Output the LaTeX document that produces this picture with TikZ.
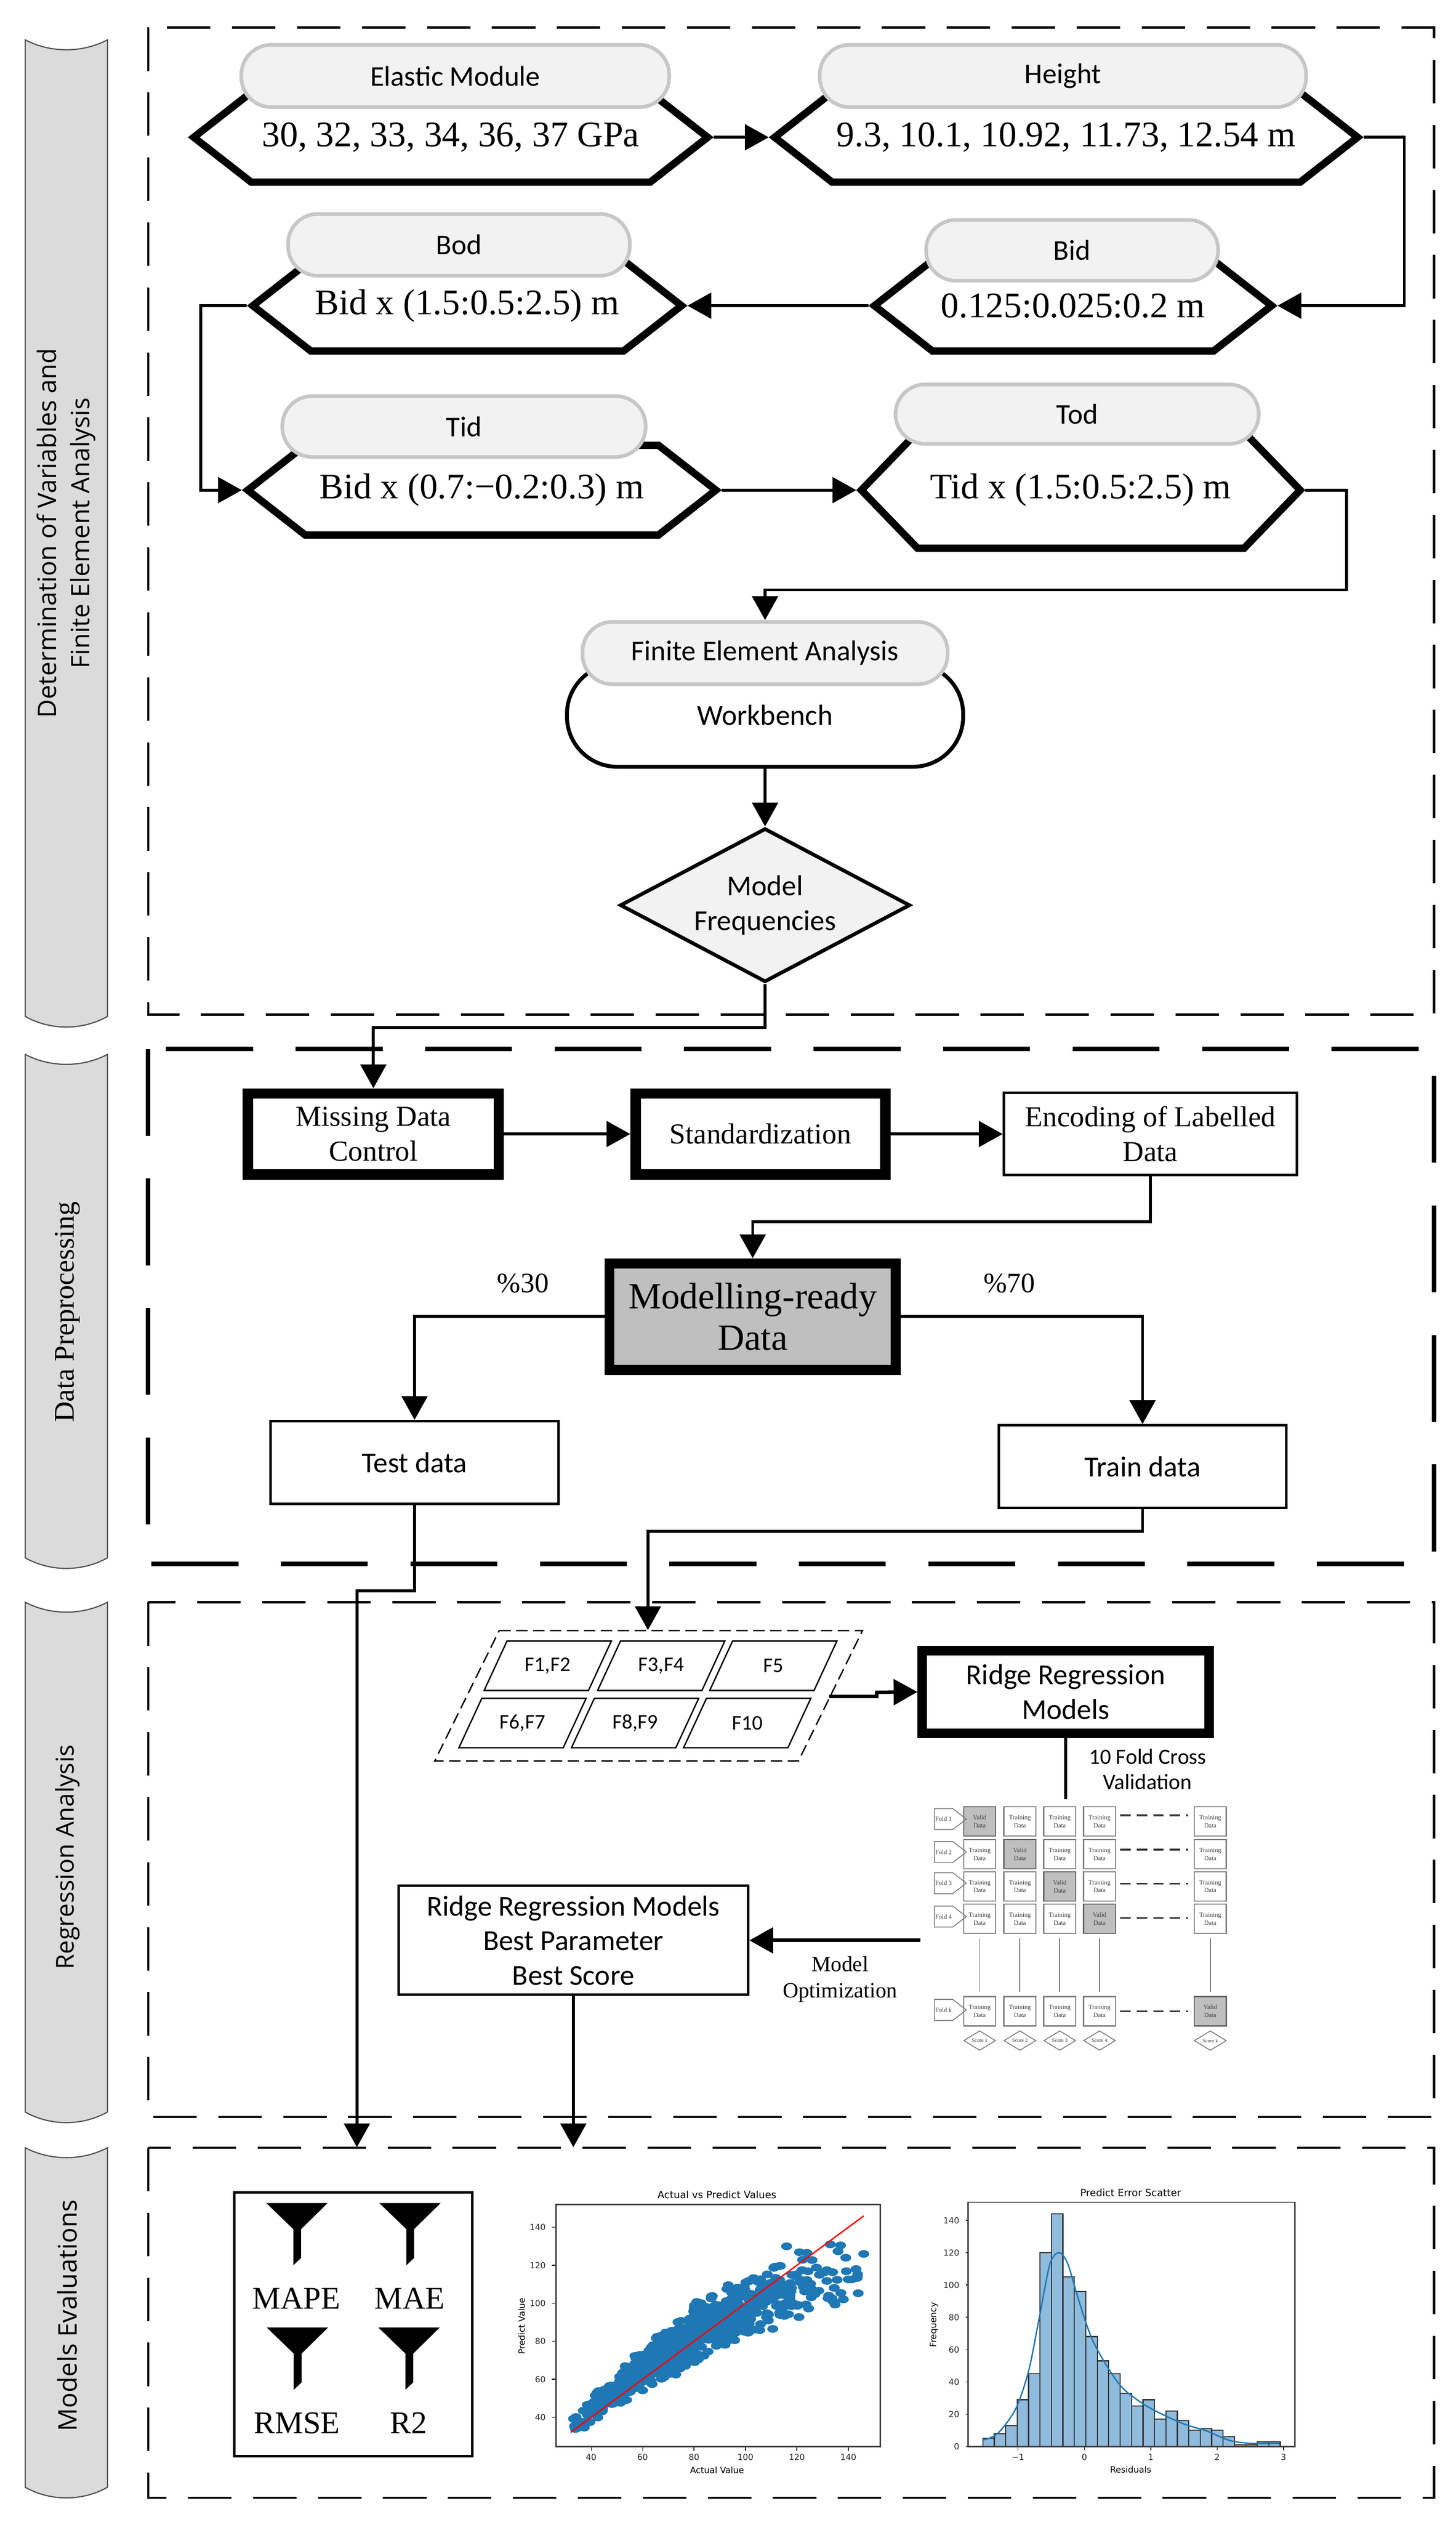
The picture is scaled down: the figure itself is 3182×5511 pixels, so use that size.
\documentclass[tikz,border=0pt]{standalone}
\usepackage{fontspec}
\setmainfont{Liberation Serif}
\newfontfamily\calibrifont{Carlito}
\newfontfamily\lanefont{Open Sans}
\newfontfamily\plotfont{DejaVu Sans}
\usetikzlibrary{arrows.meta,shapes.symbols,shapes.geometric}

\tikzset{
	hexnode/.style n args={3}{shape=signal, signal to=east and west, signal from=nowhere, signal pointer angle=#3, draw=black, line width=1.6mm, inner sep=0pt, minimum width=#1 mm, minimum height=#2 mm, font=\fontsize{22.4}{26}\selectfont},
	pillnode/.style n args={2}{rectangle, rounded corners=6.5mm, draw=black!22, fill=black!5, line width=0.8mm, minimum width=#1 mm, minimum height=#2 mm, font=\calibrifont\fontsize{17.8}{21.5}\selectfont},
	boxnode/.style n args={3}{rectangle, draw=black, line width=#3 mm, inner sep=0pt, minimum width=#1 mm, minimum height=#2 mm, align=center, font=\fontsize{18}{21.5}\selectfont},
	calibritext/.style={font=\calibrifont\fontsize{18}{21.5}\selectfont, align=center},
	serifnote/.style={font=\fontsize{17.5}{21}\selectfont, align=center},
	conn/.style={line width=0.65mm, -{Triangle[length=5.2mm,width=5.6mm]}},
	plainconn/.style={line width=0.65mm},
	laneframe/.style={line width=0.5mm, dash pattern=on 9.5mm off 4.7mm},
	laneback/.style={draw=black!70, fill=black!14, line width=0.25mm},
	trainbox/.style={rectangle, draw=black!50, fill=white, line width=0.25mm, inner sep=0pt, minimum width=7mm, minimum height=6.4mm, align=center, text=black!75, font=\fontsize{4}{5}\selectfont},
	validbox/.style={trainbox, fill=black!25, draw=black!60},
	foldtag/.style={shape=signal, signal to=east, signal from=nowhere, signal pointer angle=75, draw=black!50, line width=0.2mm, inner sep=0pt, minimum width=7mm, minimum height=4.6mm, text=black!75, font=\fontsize{4}{5}\selectfont},
	scoretag/.style={diamond, draw=black!50, line width=0.2mm, inner sep=0pt, shape aspect=1.63, minimum width=7mm, minimum height=4.3mm, text=black!75, font=\fontsize{3.2}{4}\selectfont},
	ticktext/.style={font=\plotfont\fontsize{5.2}{6}\selectfont, text=black!85},
	axistitle/.style={font=\plotfont\fontsize{6.2}{7}\selectfont},
	axisname/.style={font=\plotfont\fontsize{5.4}{6}\selectfont},
}

\begin{document}
\begin{tikzpicture}[x=0.1mm,y=-0.1mm]
\useasboundingbox (0,0) rectangle (3182,5511);

% side lanes
\foreach \ytop/\ybot in {87/2221,2304/3404,3501/4615,4693/5435}{
\draw[laneback] (55,\ytop) .. controls (110,\ytop+29) and (180,\ytop+29) .. (235,\ytop) -- (235,\ybot) .. controls (180,\ybot+31) and (110,\ybot+31) .. (55,\ybot) -- cycle;
}
\node[rotate=90, align=center, font=\lanefont\fontsize{15.8}{20.7}\selectfont] (laneA) at (145,1165) {Determination of Variables and\\Finite Element Analysis};
\node[rotate=90, font=\fontsize{17.7}{21}\selectfont] (laneB) at (148,2867) {Data Preprocessing};
\node[rotate=90, font=\lanefont\fontsize{15.3}{18}\selectfont] (laneC) at (147,4058) {Regression Analysis};
\node[rotate=90, font=\lanefont\fontsize{16}{18}\selectfont] (laneD) at (147,5060) {Models Evaluations};

% dashed frames
\draw[laneframe] (324,60) rectangle (3134,2217);
\draw[line width=1mm, dash pattern=on 19mm off 9.3mm] (324,2292) rectangle (3134,3417);
\draw[laneframe] (324,3501) rectangle (3134,4626);
\draw[laneframe] (324,4693) rectangle (3134,5458);

% variables
\node[hexnode={112.3}{19.6}{76}] (elastic) at (985,300) {30, 32, 33, 34, 36, 37 GPa};
\node[hexnode={127.4}{19.6}{76}] (height) at (2330,300) {9.3, 10.1, 10.92, 11.73, 12.54 m};
\node[hexnode={86.8}{19.8}{76}] (bid) at (2345,668) {0.125:0.025:0.2 m};
\node[hexnode={93.7}{19.8}{76}] (bod) at (1021,668) {Bid x (1.5:0.5:2.5) m};
\node[hexnode={102.3}{19.6}{76}] (tid) at (1053,1071) {Bid x (0.7:−0.2:0.3) m};
\node[hexnode={95.9}{25.4}{92}] (tod) at (2362,1071) {Tid x (1.5:0.5:2.5) m};

\node[pillnode={93.5}{13.6}] (elastic_t) at (995,166) {Elastic Module};
\node[pillnode={106.3}{13.6}] (height_t) at (2323,166) {Height};
\node[pillnode={63.8}{13.3}] (bid_t) at (2343,547) {Bid};
\node[pillnode={74.7}{13.5}] (bod_t) at (1003,535) {Bod};
\node[pillnode={79.4}{13.3}] (tid_t) at (1014,932) {Tid};
\node[pillnode={79.4}{13}] (tod_t) at (2354,905) {Tod};

% finite element step
\node[rectangle, rounded corners=11mm, draw=black, line width=0.85mm, minimum width=86.6mm, minimum height=22.5mm, calibritext] (bench) at (1672,1563) {Workbench};
\node[pillnode={79.8}{13.6}] (fea) at (1672,1427) {Finite Element Analysis};
\node[diamond, shape aspect=1.888, draw=black, fill=black!5, line width=0.8mm, inner sep=0pt, minimum width=63.4mm, minimum height=33.6mm, calibritext] (freq) at (1672,1978) {Model\\Frequencies};

\coordinate (routeA) at (3069,300);
\coordinate (routeB) at (439,668);
\coordinate (routeC) at (2943,1289);
\coordinate (routeD) at (1672,2245);

\draw[conn] (elastic.east) -- (height.west);
\draw[conn] (height.east) -- (routeA) |- (bid.east);
\draw[conn] (bid.west) -- (bod.east);
\draw[conn] (bod.west) -- (routeB) |- (tid.west);
\draw[conn] (tid.east) -- (tod.west);
\draw[conn] (tod.east) -| (routeC) -| (fea.north);
\draw[conn] (bench.south) -- (freq.north);

% preprocessing
\node[boxnode={54.8}{17.7}{2.3}] (missing) at (816,2478) {Missing Data\\Control};
\node[boxnode={54.6}{17.7}{2.3}] (standard) at (1662,2478) {Standardization};
\node[boxnode={64}{18}{0.55}] (encoding) at (2514,2478) {Encoding of Labelled\\Data};
\node[boxnode={62.6}{23.3}{2.2}, fill=black!25, font=\fontsize{23}{25.5}\selectfont] (ready) at (1645,2877) {Modelling-ready\\Data};
\node[boxnode={62.9}{18.1}{0.55}, calibritext] (testdata) at (906,3196) {Test data};
\node[boxnode={62.9}{18.1}{0.55}, calibritext] (traindata) at (2497,3205) {Train data};
\node[serifnote] (pct_test) at (1143,2804) {\%30};
\node[serifnote] (pct_train) at (2206,2804) {\%70};

\coordinate (routeE) at (2514,2669);
\draw[conn] (freq.south) -- (routeD) -| (missing.north);
\draw[conn] (missing.east) -- (standard.west);
\draw[conn] (standard.east) -- (encoding.west);
\draw[conn] (encoding.south) -- (routeE) -| (ready.north);
\draw[conn] (ready.west) -| (testdata.north);
\draw[conn] (ready.east) -| (traindata.north);

% feature groups
\draw[line width=0.3mm, dash pattern=on 2.5mm off 1.2mm] (1091,3563) -- (1885,3563) -- (1745,3848) -- (950,3848) -- cycle;
\foreach \cname/\cx/\cy/\ctext in {fa/1197/3640/{F1,F2},fb/1445/3640/{F3,F4},fc/1690/3640/F5,fd/1142/3765/{F6,F7},fe/1388/3765/{F8,F9},ff/1633/3765/F10}{
\draw[line width=0.3mm] (\cx-89,\cy-54) -- (\cx+139,\cy-54) -- (\cx+89,\cy+54) -- (\cx-139,\cy+54) -- cycle;
\node[font=\calibrifont\fontsize{13}{15}\selectfont] (\cname) at (\cx,\cy) {\ctext};
}
\node[boxnode={62.7}{18.1}{2.1}, calibritext] (ridge) at (2329,3697) {Ridge Regression\\Models};
\node[boxnode={76.4}{23.8}{0.55}, calibritext] (best) at (1253,4240) {Ridge Regression Models\\Best Parameter\\Best Score};
\node[font=\calibrifont\fontsize{13.6}{15.9}\selectfont, align=center] (crossval) at (2508,3866) {10 Fold Cross\\Validation};
\node[font=\fontsize{13.5}{16.4}\selectfont, align=center] (optim) at (1836,4325) {Model\\Optimization};

\coordinate (routeF) at (906,3476);
\coordinate (routeG) at (780,3476);
\coordinate (routeH) at (2497,3346);
\coordinate (groupsTop) at (1416,3562);
\coordinate (groupsOut) at (1812,3707);
\coordinate (groupsJog) at (1916,3698);
\coordinate (gridTop) at (2329,3932);
\coordinate (gridOut) at (2012,4240);
\coordinate (metricsTop) at (780,4692);
\coordinate (plotsTop) at (1253,4692);

\draw[conn] (traindata.south) -- (routeH) -| (groupsTop);
\draw[conn, line width=0.75mm] (groupsOut) -| (groupsJog) -- (ridge.west);
\draw[plainconn, line width=0.75mm] (ridge.south) -- (gridTop);
\draw[conn, line width=0.75mm] (gridOut) -- (best.east);
\draw[conn, line width=0.7mm] (best.south) -- (plotsTop);
\draw[conn, line width=0.7mm] (testdata.south) -- (routeF) -- (routeG) -- (metricsTop);

% k fold grid
\foreach \rowy [count=\r] in {3980,4052,4122,4193,4395}{
\foreach \colx [count=\c] in {2141,2229,2316,2403,2645}{
\ifnum\r=\c \def\kstyle{validbox}\def\kword{Valid}\else \def\kstyle{trainbox}\def\kword{Training}\fi
\node[\kstyle] (k\r\c) at (\colx,\rowy) {\kword\\Data};
}
}
\foreach \foldy/\foldname in {3975/1,4047/2,4115/3,4188/4,4392/k}{
\node[foldtag] (fold\foldname) at (2062,\foldy) {Fold \foldname};
}
\foreach \r/\lift in {1/1.3,2/1,3/0.6,4/0.2,5/0}{
\draw[line width=0.4mm, black!80, dash pattern=on 2.3mm off 1.3mm, shorten <=0.9mm, shorten >=1.2mm] ([yshift=\lift mm]k\r4.east) -- ([yshift=\lift mm]k\r5.west);
}
\foreach \c/\scorename in {1/1,2/2,3/3,4/4,5/k}{
\draw[line width=0.2mm, black!55, shorten <=0.9mm, shorten >=0.9mm] (k4\c.south) -- (k5\c.north);
\node[scoretag] (score\c) at (k5\c |- 0,4459) {Score \scorename};
}

% metrics
\node[boxnode={52.1}{57.6}{0.55}] (metrics) at (772,5079) {};
\foreach \fx/\fy in {582/4814,829/4814,583/5086,827/5086}{
\fill[shift={(\fx,\fy)}] (0,0) -- (134,0) -- (76,57) -- (76,120) -- (59,136) -- (59,57) -- cycle;
}
\node[font=\fontsize{19.7}{22}\selectfont] (mape) at (648,5022) {MAPE};
\node[font=\fontsize{19.7}{22}\selectfont] (mae) at (895,5022) {MAE};
\node[font=\fontsize{19.7}{22}\selectfont] (rmse) at (649,5295) {RMSE};
\node[font=\fontsize{19.7}{22}\selectfont] (rtwo) at (893,5295) {R2};

% actual against predicted
\begin{scope}[shift={(1067.2,5448)},x=0.562mm,y=0.415mm]
\pgfmathsetseed{42}
\foreach \i in {1,...,800}{
\pgfmathsetmacro{\actual}{32+114*pow(0.5*rnd+0.5*rnd,1.3)}
\pgfmathsetmacro{\spread}{4+0.2*min(\actual-32,50)}
\pgfmathsetmacro{\pred}{\actual+5-0.0045*(\actual-60)*(\actual-60)+\spread*0.65*(rand+rand)}
\fill[color={rgb,255:red,31;green,119;blue,180}] (\actual,\pred) ellipse[x radius=1.2mm, y radius=0.85mm];
}
\foreach \px/\py in {116/130,133/131,146/126,139/124,143/118}{
\fill[color={rgb,255:red,31;green,119;blue,180}] (\px,\py) ellipse[x radius=1.2mm, y radius=0.85mm];
}
\draw[red, line width=0.3mm] (32,32) -- (146,146);
\foreach \v in {40,60,...,140}{
\draw[line width=0.15mm] (\v,24.6) -- ++(0,-2.2);
\draw[line width=0.15mm] (26.2,\v) -- ++(-1.5,0);
\node[ticktext] (sx\v) at (\v,19) {\v};
\node[ticktext, anchor=east] (sy\v) at (24.5,\v) {\v};
}
\end{scope}
\draw[line width=0.3mm, black!75] (1215,4817) rectangle (1924,5346);
\node[axistitle] (scatter_t) at (1567,4796) {Actual vs Predict Values};
\node[axisname] (scatter_x) at (1567,5397) {Actual Value};
\node[axisname, rotate=90] (scatter_y) at (1140,5083) {Predict Value};

% residual histogram
\begin{scope}[shift={(2370,5346)},x=14.5mm,y=0.353mm]
\foreach \h [count=\n from 0] in {5,8,13,29,45,120,144,105,96,68,53,45,33,25,29,17,22,16,10,11,10,6,1,1,3,3}{
\pgfmathsetmacro{\barx}{-1.531+0.1724*\n}
\draw[fill={rgb,255:red,143;green,187;blue,221}, draw=black!80, line width=0.25mm] (\barx,0) rectangle ++(0.1724,\h);
}
\draw[line width=0.3mm, color={rgb,255:red,31;green,119;blue,180}] plot[smooth] coordinates {(-1.53,4) (-1.31,8) (-1.04,23) (-0.84,47) (-0.68,80) (-0.52,113) (-0.38,120) (-0.25,113) (-0.09,91) (0.11,67) (0.35,49) (0.58,36) (0.9,26) (1.22,19) (1.53,13.5) (1.85,9.5) (2.17,4) (2.48,2) (2.94,2)};
\foreach \v/\vtext in {-1/−1,0/0,1/1,2/2,3/3}{
\draw[line width=0.15mm] (\v,0) -- ++(0,-2.5);
\node[ticktext] (hx\vtext) at (\v,-6.5) {\vtext};
}
\foreach \v in {0,20,...,140}{
\draw[line width=0.15mm] (-1.74,\v) -- ++(-0.05,0);
\node[ticktext, anchor=east] (hy\v) at (-1.8,\v) {\v};
}
\end{scope}
\draw[line width=0.3mm, black!75] (2116,4812) rectangle (2830,5346);
\node[axistitle] (hist_t) at (2471,4791) {Predict Error Scatter};
\node[axisname] (hist_x) at (2471,5396) {Residuals};
\node[axisname, rotate=90] (hist_y) at (2041,5080) {Frequency};

\end{tikzpicture}
\end{document}
